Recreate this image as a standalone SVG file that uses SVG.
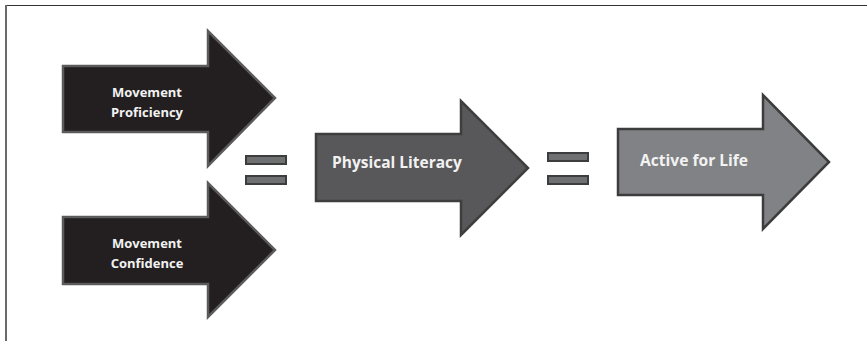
<svg xmlns="http://www.w3.org/2000/svg" width="867" height="341" viewBox="0 0 867 341">
<style>
.lbl{font-family:"Open Sans","Liberation Sans",sans-serif;font-weight:bold;fill:#f2f2f2}
.dark{fill:#231f20;stroke:#5b5b5b;stroke-width:2.5;stroke-linejoin:miter}
.mid{fill:#58585a;stroke:#3e3e3e;stroke-width:2.5}
.light{fill:#818285;stroke:#3c3c3c;stroke-width:2.5}
.bar{fill:#6f7072;stroke:#3d3d3d;stroke-width:2}
</style>
<rect width="867" height="341" fill="#ffffff"/>
<line x1="5" y1="5.5" x2="867" y2="5.5" stroke="#333" stroke-width="1.2"/>
<line x1="6" y1="5" x2="6" y2="341" stroke="#6a6a6a" stroke-width="2"/>
<g id="movement-proficiency">
<polygon class="dark" points="63,66 208,66 208,31 275,98 208,166 208,132 63,132"/>
<text class="lbl" font-size="13" x="147" y="97" text-anchor="middle">Movement</text>
<text class="lbl" font-size="13" x="147" y="117" text-anchor="middle">Proficiency</text>
</g>
<g id="movement-confidence">
<polygon class="dark" points="63,217 208,217 208,183 275,250 208,317 208,284 63,284"/>
<text class="lbl" font-size="13" x="147" y="248" text-anchor="middle">Movement</text>
<text class="lbl" font-size="13" x="147" y="268" text-anchor="middle">Confidence</text>
</g>
<g id="equals-1">
<rect class="bar" x="246" y="156" width="40" height="8"/>
<rect class="bar" x="246" y="176" width="40" height="8"/>
</g>
<g id="physical-literacy">
<polygon class="mid" points="316,134 461,134 461,101 528,168 461,235 461,201 316,201"/>
<text class="lbl" font-size="15.5" x="332" y="168">Physical Literacy</text>
</g>
<g id="equals-2">
<rect class="bar" x="548" y="153" width="40" height="8"/>
<rect class="bar" x="548" y="176" width="40" height="8"/>
</g>
<g id="active-for-life">
<polygon class="light" points="618,129 763,129 763,95 829,162 763,229 763,195 618,195"/>
<text class="lbl" font-size="15.6" x="640" y="166">Active for Life</text>
</g>
<g id="connectors"></g>
</svg>
